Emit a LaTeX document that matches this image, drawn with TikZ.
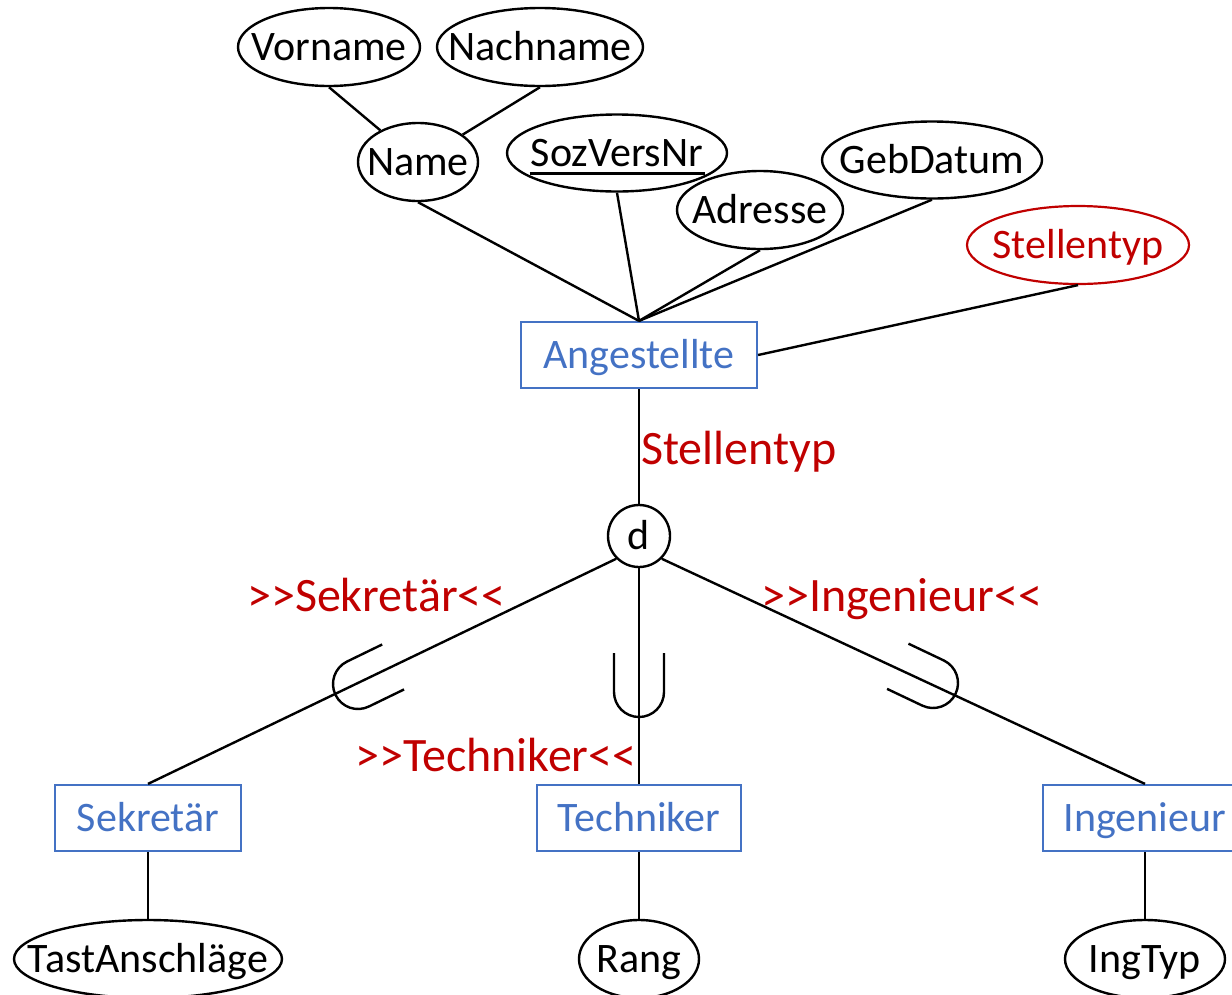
\documentclass[tikz,border=0pt]{standalone}
\usepackage{fontspec}
\setmainfont{Carlito}
\usetikzlibrary{shapes.geometric}
\definecolor{erblue}{HTML}{4472C4}
\definecolor{erred}{HTML}{C00000}
\tikzset{
  base/.style={inner sep=0pt, text height=27pt, text depth=0pt,
    font=\fontsize{42}{50}\selectfont},
  attr/.style={base, ellipse, draw=black, line width=2.4pt},
  entity/.style={base, rectangle, draw=erblue, text=erblue, line width=2.2pt,
    minimum height=66pt},
  conn/.style={line width=2.4pt},
  rolelabel/.style={inner sep=0pt, anchor=base west, text=erred,
    font=\fontsize{48}{57}\selectfont},
  subsetU/.pic={\draw[line width=2.4pt] (-25pt,39pt) -- (-25pt,0pt)
    arc[start angle=180,end angle=360,radius=25pt] -- (25pt,39pt);}
}
\begin{document}
\begin{tikzpicture}[x=1pt,y=1pt]
  \useasboundingbox (0,0) rectangle (1232,-994);

  % attributes of Angestellte
  \node[attr, minimum width=182pt, minimum height=78pt] (vor) at (329,-47) {\makebox[0pt]{Vorname}};
  \node[attr, minimum width=206pt, minimum height=78pt] (nach) at (540,-47) {\makebox[0pt]{Nachname}};
  \node[attr, minimum width=120pt, minimum height=78pt] (name) at (418,-162) {\makebox[0pt]{Name}};
  \node[attr, minimum width=220pt, minimum height=77pt] (soz) at (617,-153)
    {\makebox[0pt]{SozVersNr}\makebox[0pt]{\rule[-8pt]{175pt}{2.6pt}}};
  \node[attr, minimum width=166pt, minimum height=78pt] (adr) at (760,-210) {\makebox[0pt]{Adresse}};
  \node[attr, minimum width=220pt, minimum height=77pt] (geb) at (932,-160) {\makebox[0pt]{GebDatum}};
  \node[attr, draw=erred, text=erred, line width=2.2pt, minimum width=222pt, minimum height=78pt]
    (stt) at (1078,-245) {\makebox[0pt]{Stellentyp}};

  % entities
  \node[entity, minimum width=236pt] (ang) at (639,-355) {Angestellte};
  \node[entity, minimum width=186pt] (sek) at (148,-818) {Sekretär};
  \node[entity, minimum width=204pt] (tech) at (639,-818) {Techniker};
  \node[entity, minimum width=204pt] (ing) at (1145,-818) {Ingenieur};

  % specialisation circle
  \node[base, circle, draw, line width=2.4pt, minimum size=62pt] (d) at (639,-536) {d};

  % attributes of the subclasses
  \node[attr, minimum width=268pt, minimum height=78pt] (tast) at (148,-959) {\makebox[0pt]{TastAnschläge}};
  \node[attr, minimum width=120pt, minimum height=78pt] (rang) at (639,-959) {\makebox[0pt]{Rang}};
  \node[attr, minimum width=160pt, minimum height=78pt] (ingtyp) at (1145,-959) {\makebox[0pt]{IngTyp}};

  % labels
  \node[rolelabel] (lst) at (641,-464) {Stellentyp};
  \node[rolelabel] (lsek) at (247,-611) {>{}>Sekretär<{}<};
  \node[rolelabel] (ling) at (761,-611) {>{}>Ingenieur<{}<};
  \node[rolelabel] (ltech) at (355,-771) {>{}>Techniker<{}<};

  % connectors
  \draw[conn] (vor.south) -- (name);
  \draw[conn] (nach.south) -- (name);
  \draw[conn] (name.south) -- (ang.north);
  \draw[conn] (soz.south) -- (ang.north);
  \draw[conn] (adr.south) -- (ang.north);
  \draw[conn] (geb.south) -- (ang.north);
  \draw[conn] (stt.south) -- (ang.east);
  \draw[conn] (ang.south) -- (d.north);
  \draw[conn] (d.south west) -- (sek.north);
  \draw[conn] (d.south) -- (tech.north);
  \draw[conn] (d.south east) -- (ing.north);
  \draw[conn] (sek.south) -- (tast.north);
  \draw[conn] (tech.south) -- (rang.north);
  \draw[conn] (ing.south) -- (ingtyp.north);

  % subset marks
  \pic[rotate=-64.1] at (358,-684) {subsetU};
  \pic at (639,-692) {subsetU};
  \pic[rotate=64.6] at (933,-683) {subsetU};
\end{tikzpicture}
\end{document}
